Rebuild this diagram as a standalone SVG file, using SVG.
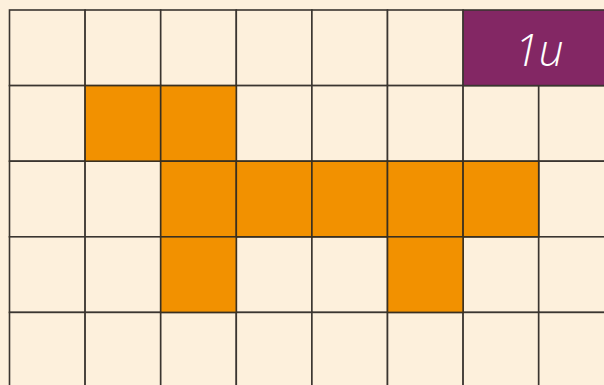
<svg xmlns="http://www.w3.org/2000/svg" width="604" height="385" viewBox="0 0 604 385">
<style>
.c{fill:#FDF0DC;stroke:#3a3530;stroke-width:1.6}
.o{fill:#F29100;stroke:#3a3020;stroke-width:1.6}
.p{fill:#832764;stroke:#3a3530;stroke-width:1.6}
.t{font-family:"Open Sans","Noto Sans",sans-serif;font-style:italic;font-weight:300;font-size:44px;fill:#ffffff;text-anchor:middle}
</style>
<rect x="0" y="0" width="604" height="385" fill="#FDF0DC"/>
<g id="grid">
<rect class="c" x="9.5" y="10" width="75.6" height="75.6"/>
<rect class="c" x="85.1" y="10" width="75.6" height="75.6"/>
<rect class="c" x="160.7" y="10" width="75.6" height="75.6"/>
<rect class="c" x="236.3" y="10" width="75.6" height="75.6"/>
<rect class="c" x="311.9" y="10" width="75.6" height="75.6"/>
<rect class="c" x="387.5" y="10" width="75.6" height="75.6"/>
<rect class="c" x="9.5" y="85.6" width="75.6" height="75.6"/>
<rect class="c" x="236.3" y="85.6" width="75.6" height="75.6"/>
<rect class="c" x="311.9" y="85.6" width="75.6" height="75.6"/>
<rect class="c" x="387.5" y="85.6" width="75.6" height="75.6"/>
<rect class="c" x="463.1" y="85.6" width="75.6" height="75.6"/>
<rect class="c" x="538.7" y="85.6" width="75.6" height="75.6"/>
<rect class="c" x="9.5" y="161.2" width="75.6" height="75.6"/>
<rect class="c" x="85.1" y="161.2" width="75.6" height="75.6"/>
<rect class="c" x="538.7" y="161.2" width="75.6" height="75.6"/>
<rect class="c" x="9.5" y="236.8" width="75.6" height="75.6"/>
<rect class="c" x="85.1" y="236.8" width="75.6" height="75.6"/>
<rect class="c" x="236.3" y="236.8" width="75.6" height="75.6"/>
<rect class="c" x="311.9" y="236.8" width="75.6" height="75.6"/>
<rect class="c" x="463.1" y="236.8" width="75.6" height="75.6"/>
<rect class="c" x="538.7" y="236.8" width="75.6" height="75.6"/>
<rect class="c" x="9.5" y="312.4" width="75.6" height="75.6"/>
<rect class="c" x="85.1" y="312.4" width="75.6" height="75.6"/>
<rect class="c" x="160.7" y="312.4" width="75.6" height="75.6"/>
<rect class="c" x="236.3" y="312.4" width="75.6" height="75.6"/>
<rect class="c" x="311.9" y="312.4" width="75.6" height="75.6"/>
<rect class="c" x="387.5" y="312.4" width="75.6" height="75.6"/>
<rect class="c" x="463.1" y="312.4" width="75.6" height="75.6"/>
<rect class="c" x="538.7" y="312.4" width="75.6" height="75.6"/>
</g>
<g id="shape">
<rect class="o" x="85.1" y="85.6" width="75.6" height="75.6"/>
<rect class="o" x="160.7" y="85.6" width="75.6" height="75.6"/>
<rect class="o" x="160.7" y="161.2" width="75.6" height="75.6"/>
<rect class="o" x="236.3" y="161.2" width="75.6" height="75.6"/>
<rect class="o" x="311.9" y="161.2" width="75.6" height="75.6"/>
<rect class="o" x="387.5" y="161.2" width="75.6" height="75.6"/>
<rect class="o" x="463.1" y="161.2" width="75.6" height="75.6"/>
<rect class="o" x="160.7" y="236.8" width="75.6" height="75.6"/>
<rect class="o" x="387.5" y="236.8" width="75.6" height="75.6"/>
</g>
<g id="unit">
<rect class="p" x="463.1" y="10" width="151.2" height="75.6"/>
<text class="t" x="539" y="66">1u</text>
</g>
</svg>
